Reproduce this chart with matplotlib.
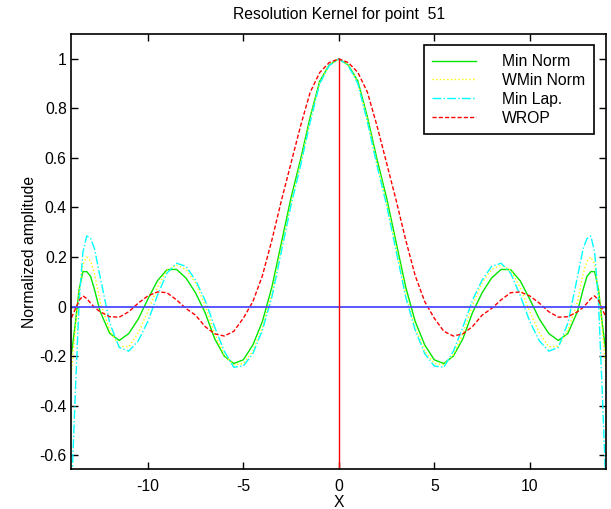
import matplotlib
matplotlib.use("Agg")
import matplotlib.pyplot as plt

plt.rcParams['font.family'] = ['Liberation Sans', 'DejaVu Sans']

# positions along X
x = [-14.0, -13.8, -13.6, -13.4, -13.2, -13.0, -12.8, -12.5, -12.0, -11.5, -11.0,
     -10.5, -10.0, -9.5, -9.0, -8.5, -8.0, -7.5, -7.0, -6.5, -6.0, -5.5, -5.0,
     -4.5, -4.0, -3.5, -3.0, -2.5, -2.0, -1.5, -1.0, -0.5, 0.0,
     0.5, 1.0, 1.5, 2.0, 2.5, 3.0, 3.5, 4.0, 4.5, 5.0, 5.5, 6.0, 6.5, 7.0,
     7.5, 8.0, 8.5, 9.0, 9.5, 10.0, 10.5, 11.0, 11.5, 12.0, 12.5, 12.8, 13.0,
     13.2, 13.4, 13.6, 13.8, 14.0]

min_norm = [-0.19, -0.07, 0.07, 0.141, 0.141, 0.122, 0.07, -0.02, -0.108, -0.137, -0.109,
            -0.05, 0.03, 0.104, 0.149, 0.15, 0.115, 0.055, -0.025, -0.13, -0.2, -0.23, -0.215,
            -0.155, -0.06, 0.08, 0.26, 0.44, 0.595, 0.765, 0.91, 0.975, 1.0,
            0.975, 0.91, 0.765, 0.595, 0.44, 0.26, 0.08, -0.06, -0.155, -0.215, -0.23, -0.2, -0.13, -0.025,
            0.055, 0.115, 0.15, 0.149, 0.104, 0.03, -0.05, -0.109, -0.137, -0.108, -0.02, 0.07, 0.122,
            0.141, 0.141, 0.07, -0.07, -0.19]

wmin_norm = [-0.27, -0.09, 0.06, 0.17, 0.2, 0.183, 0.134, 0.02, -0.096, -0.16, -0.163,
             -0.105, -0.02, 0.077, 0.147, 0.167, 0.15, 0.095, 0.005, -0.11, -0.195, -0.235, -0.23,
             -0.18, -0.085, 0.055, 0.24, 0.42, 0.58, 0.755, 0.905, 0.974, 1.0,
             0.974, 0.905, 0.755, 0.58, 0.42, 0.24, 0.055, -0.085, -0.18, -0.23, -0.235, -0.195, -0.11, 0.005,
             0.095, 0.15, 0.167, 0.147, 0.077, -0.02, -0.105, -0.163, -0.16, -0.096, 0.02, 0.134, 0.183,
             0.2, 0.17, 0.06, -0.09, -0.27]

min_lap = [-0.75, -0.35, 0.02, 0.22, 0.285, 0.275, 0.235, 0.12, -0.066, -0.165, -0.18,
           -0.138, -0.06, 0.045, 0.135, 0.175, 0.162, 0.106, 0.025, -0.083, -0.18, -0.245, -0.24,
           -0.19, -0.095, 0.04, 0.225, 0.41, 0.57, 0.745, 0.9, 0.973, 1.0,
           0.973, 0.9, 0.745, 0.57, 0.41, 0.225, 0.04, -0.095, -0.19, -0.24, -0.245, -0.18, -0.083, 0.025,
           0.106, 0.162, 0.175, 0.135, 0.045, -0.06, -0.138, -0.18, -0.165, -0.066, 0.12, 0.235, 0.275,
           0.285, 0.22, 0.02, -0.35, -0.75]

wrop = [-0.045, -0.01, 0.025, 0.043, 0.032, 0.014, -0.003, -0.021, -0.041, -0.043, -0.021,
        0.014, 0.043, 0.059, 0.056, 0.027, -0.008, -0.035, -0.081, -0.11, -0.119, -0.1, -0.047,
        0.02, 0.125, 0.27, 0.43, 0.58, 0.73, 0.865, 0.945, 0.985, 1.0,
        0.985, 0.945, 0.865, 0.73, 0.58, 0.43, 0.27, 0.125, 0.02, -0.047, -0.1, -0.119, -0.11, -0.081,
        -0.035, -0.008, 0.027, 0.056, 0.059, 0.043, 0.014, -0.021, -0.043, -0.041, -0.021, -0.003, 0.014,
        0.032, 0.043, 0.025, -0.01, -0.045]

labels = ['Min Norm', 'WMin Norm', 'Min Lap.', 'WROP']
xticks = [-10, -5, 0, 5, 10]
yticks = [-0.6, -0.4, -0.2, 0, 0.2, 0.4, 0.6, 0.8, 1]

fig = plt.figure(figsize=(6.11, 5.09), dpi=100)
ax = fig.add_axes([0.117, 0.079, 0.875, 0.854])

ax.plot(x, min_norm, color=(0, 0.9, 0), linewidth=1, label=labels[0])
ax.plot(x, wmin_norm, color=(1, 1, 0), linestyle=':', linewidth=1, label=labels[1])
ax.plot(x, min_lap, color=(0, 1, 1), linestyle='-.', linewidth=1, label=labels[2])
ax.plot(x, wrop, color=(1, 0, 0), linestyle=(0, (3, 1.5)), linewidth=1, label=labels[3])

# zero line and center marker
ax.plot([x[0], x[-1]], [0, 0], color='#4b4bff', linewidth=1.3)
ax.plot([0, 0], [-1, 1], color='red', linewidth=1)

ax.set_xlim(-14, 14)
ax.set_ylim(-0.655, 1.1)
ax.set_xticks(xticks)
ax.set_xticklabels([str(t) for t in xticks])
ax.set_yticks(yticks)
ax.set_yticklabels(['-0.6', '-0.4', '-0.2', '0', '0.2', '0.4', '0.6', '0.8', '1'])
ax.tick_params(direction='in', top=True, right=True, length=5, width=1, labelsize=11.3)
ax.tick_params(axis='x', pad=7)
for s in ax.spines.values():
    s.set_linewidth(1.2)

ax.set_title('Resolution Kernel for point  51', fontsize=11.3, pad=11)
ax.set_xlabel('X', fontsize=11.3, labelpad=1)
ax.set_ylabel('Normalized amplitude', fontsize=11.3, labelpad=1.5)

leg = ax.legend(loc='upper right', fontsize=11.3, fancybox=False, framealpha=1,
                edgecolor='black', handlelength=2.8, handletextpad=1.65,
                labelspacing=0.25, borderpad=0.55, borderaxespad=0,
                bbox_to_anchor=(0.9775, 0.974))
leg.get_frame().set_linewidth(1.2)

fig.savefig('out.png', dpi=100)
